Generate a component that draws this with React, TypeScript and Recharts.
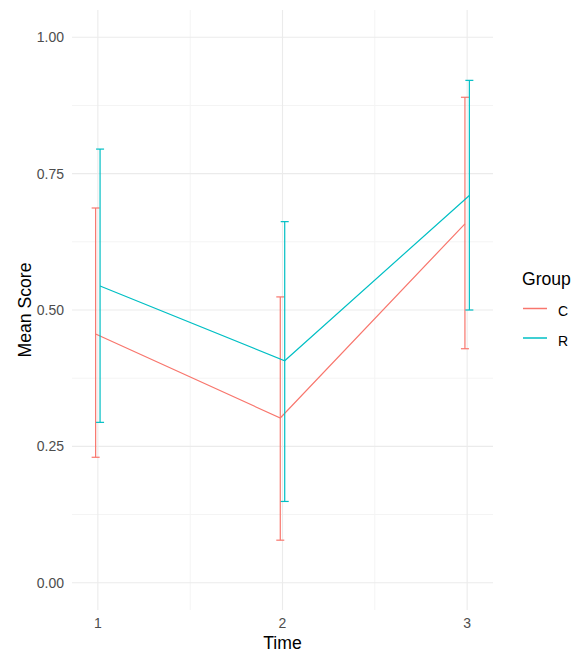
import React from 'react';
import {
  ComposedChart,
  Line,
  XAxis,
  YAxis,
  ReferenceLine,
  ErrorBar,
} from 'recharts';

// values
const times = [1, 2, 3];
const groups = ['C', 'R'];

const cMean = [0.456, 0.302, 0.658];
const cLow = [0.23, 0.078, 0.429];
const cHigh = [0.687, 0.524, 0.89];

const rMean = [0.544, 0.407, 0.71];
const rLow = [0.294, 0.149, 0.5];
const rHigh = [0.795, 0.662, 0.921];

const yTicks = [0, 0.25, 0.5, 0.75, 1];
const yMinor = [0.125, 0.375, 0.625, 0.875];
const xMinor = [1.5, 2.5];

const COLORS: Record<string, string> = { C: '#F8766D', R: '#00BFC4' };
const DODGE = 0.012;
const FONT = '"Liberation Sans", Arial, sans-serif';
const TITLE_SIZE = 17.6;
const TICK_SIZE = 14;

const build = (mean: number[], low: number[], high: number[], shift: number) =>
  times.map((t, i) => ({
    x: t + shift,
    y: mean[i],
    err: [mean[i] - low[i], high[i] - mean[i]],
  }));

const cData = build(cMean, cLow, cHigh, -DODGE);
const rData = build(rMean, rLow, rHigh, DODGE);

// legend drawn the way ggplot lays it out, to the right of the panel
const LegendBox = () => (
  <svg
    width={573}
    height={655}
    style={{ position: 'absolute', left: 0, top: 0, pointerEvents: 'none' }}
  >
    <text x={522} y={285} fontSize={TITLE_SIZE} fontFamily={FONT} fill="#000">
      Group
    </text>
    {groups.map((g, i) => {
      const cy = 308.5 + i * 29.5;
      return (
        <g key={g}>
          <line x1={523} x2={547} y1={cy} y2={cy} stroke={COLORS[g]} strokeWidth={1.5} />
          <text x={558} y={cy + 7.5} fontSize={TICK_SIZE} fontFamily={FONT} fill="#000">
            {g}
          </text>
        </g>
      );
    })}
  </svg>
);

export default function App() {
  return (
    <div style={{ position: 'absolute', left: 0, top: 0, width: 573, height: 655, background: '#fff' }}>
      <ComposedChart
        width={573}
        height={655}
        margin={{ top: 10, right: 80, bottom: 0, left: 0 }}
      >
        {yMinor.map((v) => (
          <ReferenceLine key={'ym' + v} y={v} stroke="#F4F4F4" strokeWidth={1} />
        ))}
        {xMinor.map((v) => (
          <ReferenceLine key={'xm' + v} x={v} stroke="#F4F4F4" strokeWidth={1} />
        ))}
        {yTicks.map((v) => (
          <ReferenceLine key={'y' + v} y={v} stroke="#EBEBEB" strokeWidth={1.1} />
        ))}
        {times.map((v) => (
          <ReferenceLine key={'x' + v} x={v} stroke="#EBEBEB" strokeWidth={1.1} />
        ))}
        <XAxis
          dataKey="x"
          type="number"
          domain={[0.86, 3.14]}
          ticks={times}
          allowDataOverflow
          height={45}
          tickLine={false}
          axisLine={false}
          tick={{ fill: '#4D4D4D', fontSize: TICK_SIZE, fontFamily: FONT }}
          label={{
            content: ({ viewBox }: any) => (
              <text
                x={viewBox.x + viewBox.width / 2}
                y={viewBox.y + viewBox.height - 6}
                textAnchor="middle"
                fontSize={TITLE_SIZE}
                fontFamily={FONT}
                fill="#000"
              >
                Time
              </text>
            ),
          }}
        />
        <YAxis
          type="number"
          domain={[-0.05, 1.05]}
          ticks={yTicks}
          allowDataOverflow
          width={72}
          tickLine={false}
          axisLine={false}
          tickFormatter={(v: number) => v.toFixed(2)}
          tick={{ fill: '#4D4D4D', fontSize: TICK_SIZE, fontFamily: FONT }}
          label={{
            content: ({ viewBox }: any) => {
              const cx = 31;
              const cy = viewBox.y + viewBox.height / 2;
              return (
                <text
                  x={cx}
                  y={cy}
                  transform={`rotate(-90, ${cx}, ${cy})`}
                  textAnchor="middle"
                  fontSize={TITLE_SIZE}
                  fontFamily={FONT}
                  fill="#000"
                >
                  Mean Score
                </text>
              );
            },
          }}
        />
        <Line
          name="C"
          data={cData}
          dataKey="y"
          stroke={COLORS.C}
          strokeWidth={1.2}
          dot={false}
          activeDot={false}
          isAnimationActive={false}
        >
          <ErrorBar dataKey="err" width={4} stroke={COLORS.C} strokeWidth={1.2} direction="y" isAnimationActive={false} />
        </Line>
        <Line
          name="R"
          data={rData}
          dataKey="y"
          stroke={COLORS.R}
          strokeWidth={1.2}
          dot={false}
          activeDot={false}
          isAnimationActive={false}
        >
          <ErrorBar dataKey="err" width={4} stroke={COLORS.R} strokeWidth={1.2} direction="y" isAnimationActive={false} />
        </Line>
      </ComposedChart>
      <LegendBox />
    </div>
  );
}
